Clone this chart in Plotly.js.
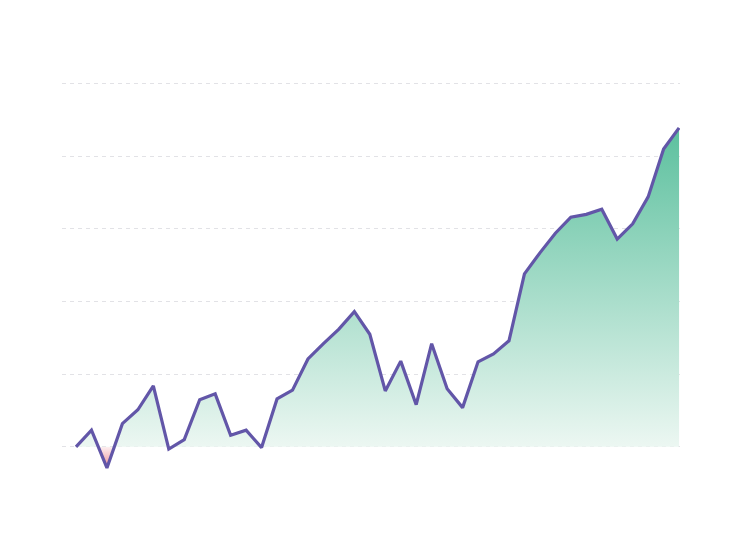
<!DOCTYPE html>
<html>
<head>
<meta charset="utf-8">
<script src="https://cdn.plot.ly/plotly-3.0.1.min.js"></script>
<style>html,body{margin:0;padding:0;background:#fff;}#chart{width:746px;height:534px;}</style>
</head>
<body>
<div id="chart"></div>
<script>
const periods = Array.from({length: 40}, (_, i) => i);
const values = [0, 2.3, -2.9, 3.2, 5.1, 8.4, -0.3, 1.0, 6.5, 7.3,
                1.6, 2.3, -0.1, 6.6, 7.8, 12.1, 14.2, 16.2, 18.6, 15.5,
                7.7, 11.8, 5.8, 14.2, 8.0, 5.4, 11.7, 12.8, 14.6, 23.8,
                26.7, 29.4, 31.6, 32.0, 32.7, 28.6, 30.7, 34.4, 41.0, 43.9];

const vmin = Math.min(...values), vmax = Math.max(...values);
const f0 = (0 - vmin) / (vmax - vmin);

const trace = {
  x: periods, y: values, type: 'scatter', mode: 'lines',
  line: {color: 'rgb(98,86,168)', width: 3.2},
  fill: 'tozeroy',
  fillgradient: {
    type: 'vertical', start: vmin, stop: vmax,
    colorscale: [
      [0, 'rgb(238,140,145)'],
      [Math.max(f0 - 0.002, 0), 'rgb(253,236,238)'],
      [f0, 'rgb(236,247,242)'],
      [1, 'rgb(92,192,158)']
    ]
  },
  hoverinfo: 'none'
};

const layout = {
  width: 746, height: 534,
  margin: {l: 62, r: 66, t: 69, b: 29},
  paper_bgcolor: '#fff', plot_bgcolor: '#fff',
  showlegend: false,
  xaxis: {range: [-0.906, 39.06], showgrid: false, zeroline: false, showticklabels: false, ticks: '', showline: false},
  yaxis: {range: [-8, 52], tickvals: [0, 10, 20, 30, 40, 50], showgrid: true,
          gridcolor: 'rgb(226,226,230)', griddash: '4px,4px', gridwidth: 1.2,
          zeroline: false, showticklabels: false, ticks: '', showline: false}
};

Plotly.newPlot('chart', [trace], layout, {staticPlot: true, displayModeBar: false});
</script>
</body>
</html>
